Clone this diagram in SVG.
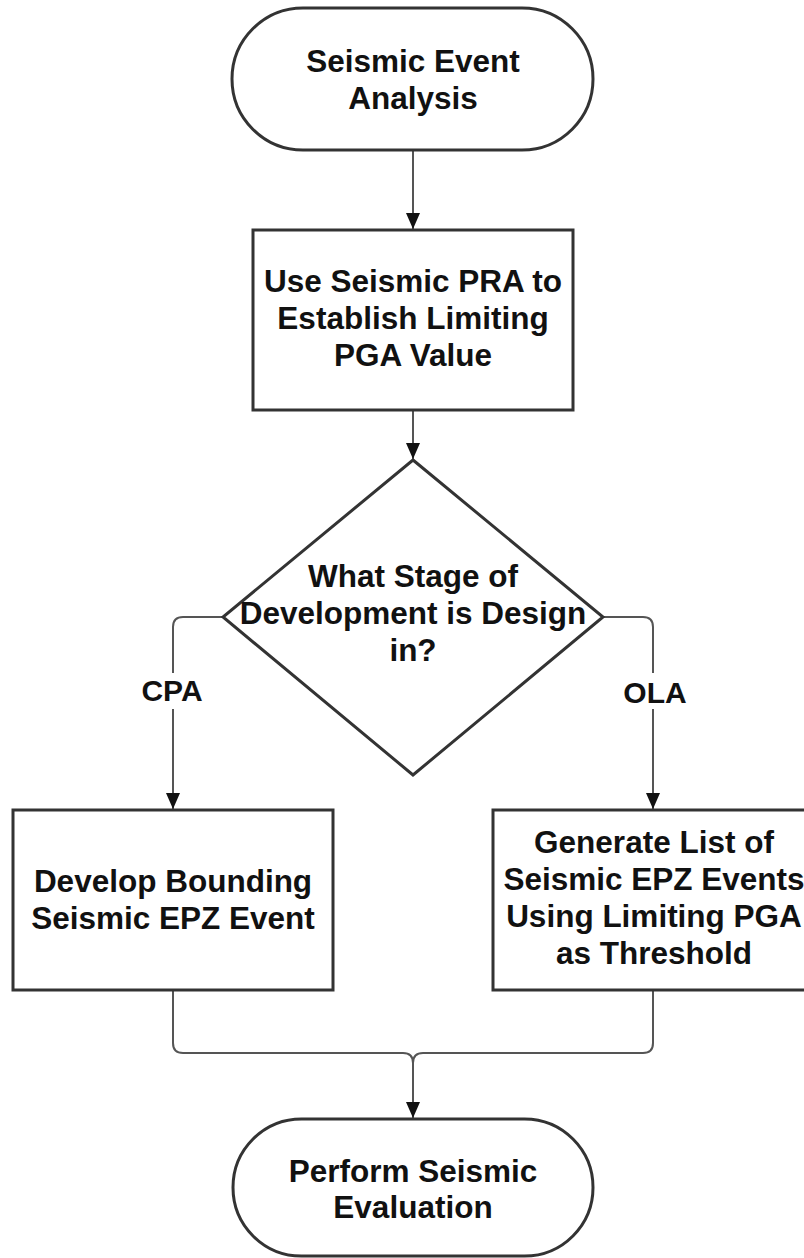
<svg xmlns="http://www.w3.org/2000/svg" width="804" height="1258" viewBox="0 0 804 1258">
  <style>
    .shape { fill: #ffffff; stroke: #333333; stroke-width: 3; }
    .conn { fill: none; stroke: #555555; stroke-width: 2; }
    .txt { font-family: "Liberation Sans", Arial, sans-serif; font-weight: bold; font-size: 31.5px; fill: #111111; text-anchor: middle; }
    .lbl { font-family: "Liberation Sans", Arial, sans-serif; font-weight: bold; font-size: 30px; fill: #111111; text-anchor: middle; }
  </style>
  <defs>
    <marker id="arrow" markerUnits="userSpaceOnUse" viewBox="0 0 16 14" markerWidth="16" markerHeight="14" refX="16" refY="7" orient="auto">
      <path d="M0,0 L16,7 L0,14 Z" fill="#111111"/>
    </marker>
  </defs>
  <rect width="804" height="1258" fill="#ffffff"/>

  <g id="connectors">
    <path class="conn" d="M413,150 V229" marker-end="url(#arrow)"/>
    <path class="conn" d="M413,410 V459" marker-end="url(#arrow)"/>
    <path class="conn" d="M223,617 H183 Q173,617 173,627 V809" marker-end="url(#arrow)"/>
    <path class="conn" d="M603,617 H643 Q653,617 653,627 V809" marker-end="url(#arrow)"/>
    <path class="conn" d="M173,990 V1043 Q173,1053 183,1053 H403 Q413,1053 413,1063 V1118" marker-end="url(#arrow)"/>
    <path class="conn" d="M653,990 V1043 Q653,1053 643,1053 H423 Q413,1053 413,1063"/>
    <rect x="138" y="673" width="70" height="36" fill="#ffffff"/>
    <text class="lbl" x="172" y="701">CPA</text>
    <rect x="618" y="673" width="72" height="36" fill="#ffffff"/>
    <text class="lbl" x="655" y="703">OLA</text>
  </g>

  <g id="start">
    <rect class="shape" x="232" y="8" width="361" height="142" rx="71" ry="71"/>
    <text class="txt" x="413" y="72">Seismic Event</text>
    <text class="txt" x="413" y="109">Analysis</text>
  </g>

  <g id="use-pra">
    <rect class="shape" x="253" y="230" width="320" height="180"/>
    <text class="txt" x="413" y="292">Use Seismic PRA to</text>
    <text class="txt" x="413" y="329">Establish Limiting</text>
    <text class="txt" x="413" y="366">PGA Value</text>
  </g>

  <g id="decision">
    <polygon class="shape" points="413,460 603,617 413,775 223,617"/>
    <text class="txt" x="413" y="587">What Stage of</text>
    <text class="txt" x="413" y="624">Development is Design</text>
    <text class="txt" x="413" y="661">in?</text>
  </g>

  <g id="cpa-box">
    <rect class="shape" x="13" y="810" width="320" height="180"/>
    <text class="txt" x="173" y="892">Develop Bounding</text>
    <text class="txt" x="173" y="929">Seismic EPZ Event</text>
  </g>

  <g id="ola-box">
    <rect class="shape" x="493" y="810" width="320" height="180"/>
    <text class="txt" x="654" y="853">Generate List of</text>
    <text class="txt" x="654" y="890">Seismic EPZ Events</text>
    <text class="txt" x="654" y="927">Using Limiting PGA</text>
    <text class="txt" x="654" y="964">as Threshold</text>
  </g>

  <g id="end">
    <rect class="shape" x="233" y="1119" width="360" height="137" rx="68.5" ry="68.5"/>
    <text class="txt" x="413" y="1182">Perform Seismic</text>
    <text class="txt" x="413" y="1218">Evaluation</text>
  </g>
</svg>
